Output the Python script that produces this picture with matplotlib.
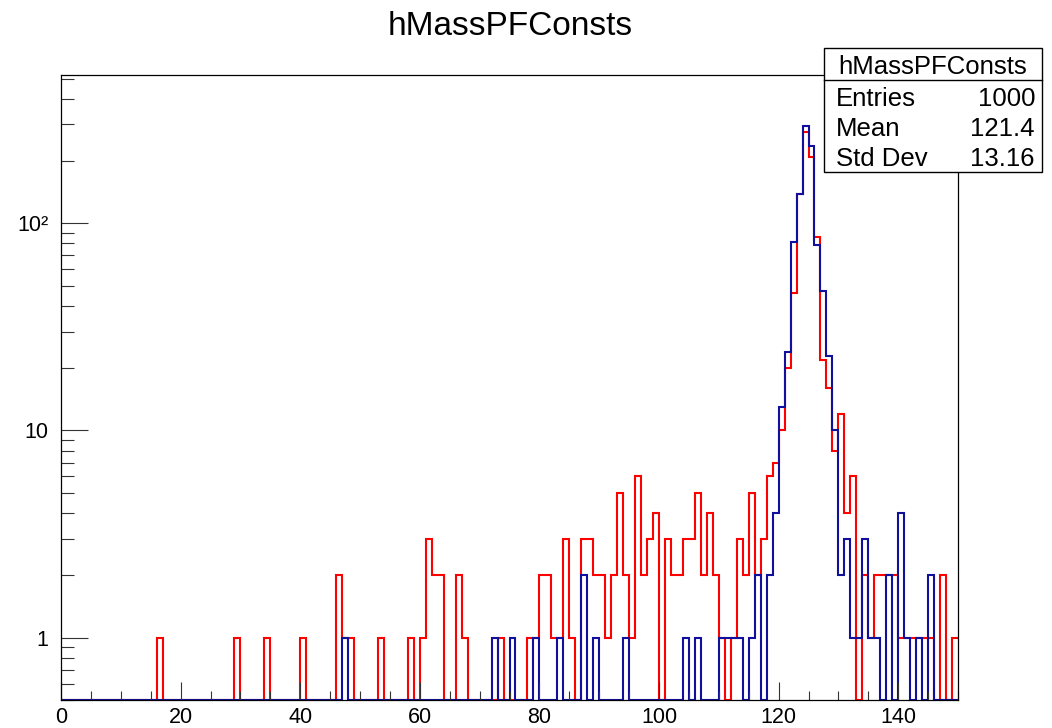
import numpy as np
import matplotlib.pyplot as plt
from matplotlib.patches import Rectangle
from matplotlib.lines import Line2D
from matplotlib.ticker import MultipleLocator, LogLocator, NullFormatter

plt.rcParams['font.family'] = ['Liberation Sans', 'DejaVu Sans']

# binning of the mass histogram
nbins, xlo, xhi = 150, 0.0, 150.0

# non-empty bins: lower bin edge -> entries
red_bins = {
    16: 1, 29: 1, 34: 1, 40: 1, 46: 2, 47: 1, 48: 1, 53: 1, 58: 1, 60: 1,
    61: 3, 62: 2, 63: 2, 66: 2, 67: 1, 73: 1, 78: 1, 79: 1, 80: 2, 81: 2,
    82: 1, 83: 1, 84: 3, 85: 1, 87: 3, 88: 3, 89: 2, 90: 2, 91: 1, 92: 2,
    93: 5, 94: 2, 95: 1, 96: 6, 97: 2, 98: 3, 99: 4, 101: 3, 102: 2, 103: 2,
    104: 3, 105: 3, 106: 5, 107: 2, 108: 4, 109: 2, 110: 1, 112: 1, 113: 3,
    114: 2, 115: 5, 116: 2, 117: 3, 118: 6, 119: 7, 120: 10, 121: 20,
    122: 46, 123: 139, 124: 276, 125: 209, 126: 86, 127: 22, 128: 16,
    129: 8, 130: 12, 131: 4, 132: 6, 134: 2, 135: 1, 136: 2, 137: 2,
    138: 2, 139: 2, 140: 1, 141: 1, 142: 1, 143: 1, 144: 1, 145: 1,
    147: 2, 149: 1,
}
blue_bins = {
    47: 1, 72: 1, 75: 1, 79: 1, 83: 1, 87: 2, 89: 1, 94: 1, 104: 1, 106: 1,
    110: 1, 111: 1, 112: 1, 113: 1, 115: 1, 116: 2, 118: 2, 119: 4,
    120: 13, 121: 24, 122: 81, 123: 138, 124: 296, 125: 237, 126: 79,
    127: 47, 128: 23, 129: 10, 130: 2, 131: 3, 132: 1, 133: 1, 134: 3,
    135: 1, 136: 1, 138: 2, 140: 4, 141: 1, 143: 1, 145: 2,
}

hist_name = 'hMassPFConsts'
stat_names = ['Entries', 'Mean', 'Std Dev']
stat_mean = '121.4'
stat_std = '13.16'

ymin, ymax = 0.5, 520

edges = np.linspace(xlo, xhi, nbins + 1)


def fill(bins):
    h = np.zeros(nbins)
    for lo, n in bins.items():
        h[int(lo - xlo)] = n
    return h


red = fill(red_bins)
blue = fill(blue_bins)

W, H = 1052, 728
fig = plt.figure(figsize=(W / 100, H / 100), dpi=100)
ax = fig.add_axes([61 / W, 1 - 700 / H, (958 - 61) / W, (700 - 75) / H])

# empty bins sit on the bottom of the frame, like ROOT does
ax.stairs(np.maximum(red, ymin), edges, baseline=None, color='#ff0000', lw=1.5)
ax.stairs(np.maximum(blue, ymin), edges, baseline=None, color='#10109c', lw=1.5)

ax.set_yscale('log')
ax.set_xlim(xlo, xhi)
ax.set_ylim(ymin, ymax)

ax.xaxis.set_major_locator(MultipleLocator(20))
ax.xaxis.set_minor_locator(MultipleLocator(5))
ax.set_yticks([1, 10, 100], labels=['1', '10', '10²'])
ax.yaxis.set_minor_locator(LogLocator(base=10, subs=np.arange(2, 10)))
ax.yaxis.set_minor_formatter(NullFormatter())

ax.tick_params(axis='both', which='both', direction='in', top=False, right=False,
               color='#333333', width=0.8, labelsize=15.5)
ax.tick_params(axis='x', which='major', length=13, pad=5)
ax.tick_params(axis='x', which='minor', length=6.5)
ax.tick_params(axis='y', which='major', length=19.5, pad=9)
ax.tick_params(axis='y', which='minor', length=9.5)
for s in ax.spines.values():
    s.set_linewidth(0.9)

# title
fig.text(510 / W, 1 - 35 / H, hist_name, ha='center', va='baseline', fontsize=24)

# statistics box
bx0, bx1, by0, by1 = 824, 1042, 48, 172
fig.add_artist(Rectangle((bx0 / W, 1 - by1 / H), (bx1 - bx0) / W, (by1 - by0) / H,
                         transform=fig.transFigure, facecolor='white',
                         edgecolor='black', lw=1.0, zorder=5))
fig.add_artist(Line2D([bx0 / W, bx1 / W], [1 - 80 / H, 1 - 80 / H],
                      transform=fig.transFigure, color='black', lw=1.0, zorder=6))
fig.text((bx0 + bx1) / 2 / W, 1 - 74 / H, hist_name, ha='center', va='baseline',
         fontsize=18.5, zorder=7)
stat_vals = [str(int(red.sum())), stat_mean, stat_std]
for i, (name, val) in enumerate(zip(stat_names, stat_vals)):
    yb = 1 - (106 + 30 * i) / H
    fig.text(836 / W, yb, name, ha='left', va='baseline', fontsize=18.5, zorder=7)
    fig.text(1035 / W, yb, val, ha='right', va='baseline', fontsize=18.5, zorder=7)

fig.savefig('out.png', dpi=100)
